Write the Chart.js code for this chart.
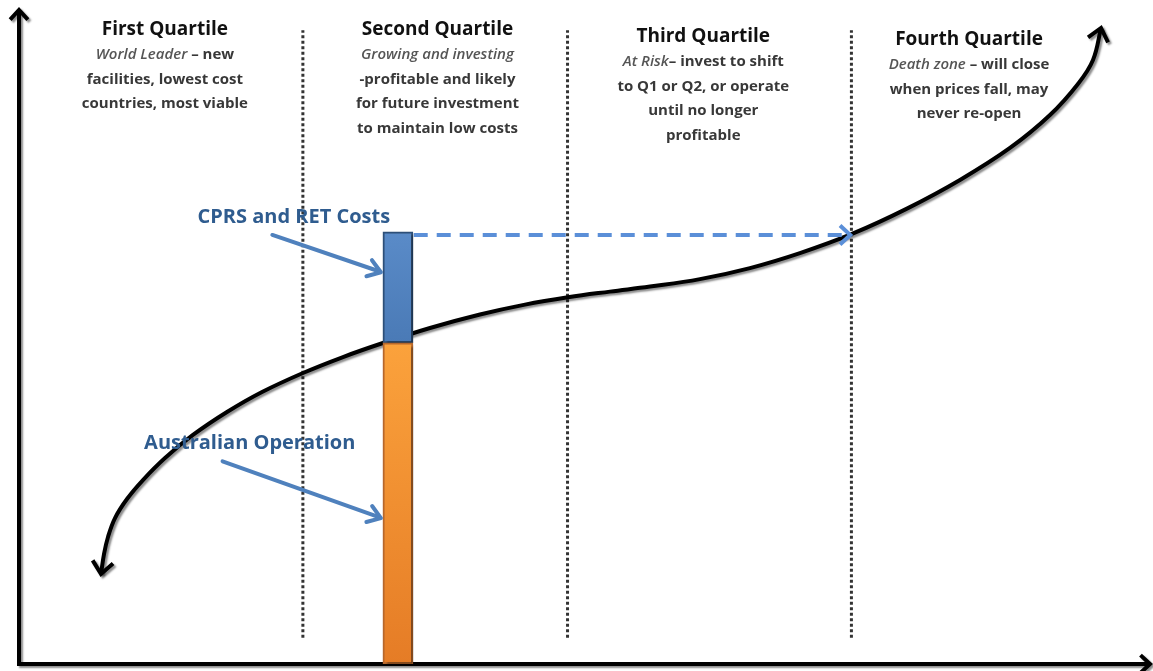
<!DOCTYPE html>
<html><head><meta charset="utf-8">
<script src="https://cdn.jsdelivr.net/npm/chart.js@4.4.1/dist/chart.umd.min.js"></script>
<style>html,body{margin:0;padding:0;background:#fff;overflow:hidden}#wrap{width:1153px;height:671px}</style>
</head><body><div id="wrap"><canvas id="c" width="1153" height="671"></canvas></div>
<script>
// ---- data (x: cumulative capacity 0-100, y: cost 0-100) ----
const curveX = [7.25, 7.52, 7.87, 8.49, 9.55, 10.96, 12.91, 15.38, 18.39, 21.49, 25.11, 28.65, 32.18, 36.34, 40.76, 44.74, 48.54, 52.25, 55.79, 60.21, 64.63, 69.05, 73.65, 78.51, 83.20, 87.62, 91.16, 93.63, 94.96, 95.67];
const curveY = [13.76, 16.82, 19.42, 22.32, 25.23, 28.13, 31.50, 35.02, 38.53, 41.59, 44.50, 46.94, 49.08, 51.38, 53.44, 54.95, 56.07, 56.94, 57.71, 58.85, 60.54, 62.83, 65.76, 69.63, 74.01, 78.90, 83.94, 88.69, 92.35, 97.25];
const quartileBounds = [25.1, 48.5, 73.6];
const quartileRange = [4.0, 96.9];
const barPosition = 33.5;
const operationCost = 49.1;
const carbonCost = 17.0;
const shiftLevel = 65.6;
const shiftFromX = 34.9;
const shiftToX = 73.5;

const quartileTitles = ['First Quartile', 'Second Quartile', 'Third Quartile', 'Fourth Quartile'];
const quartileCenters = [12.9, 37.0, 60.5, 84.0];
const quartileText = [
  [[['World Leader', true], [' \u2013 new', false]], [['facilities, lowest cost', false]], [['countries, most viable', false]]],
  [[['Growing and investing', true]], [['-profitable and likely', false]], [['for future investment', false]], [['to maintain low costs', false]]],
  [[['At Risk', true], ['\u2013 invest to shift', false]], [['to Q1 or Q2, or operate', false]], [['until no longer', false]], [['profitable', false]]],
  [[['Death zone', true], [' \u2013 will close', false]], [['when prices fall, may', false]], [['never re-open', false]]]
];
const quartileTop = [30, 30, 37, 40];

const annotations = [
  { text: 'CPRS and RET Costs', at: [24.3, 68.3], from: [22.4, 65.6], to: [32.0, 59.9] },
  { text: 'Australian Operation', at: [20.4, 33.8], from: [18.0, 31.0], to: [32.0, 22.3] }
];

// ---- helpers ----
function chevron(ctx, tx, ty, fx, fy, len, ang) {
  const a = Math.atan2(ty - fy, tx - fx);
  ctx.beginPath();
  ctx.moveTo(tx - len * Math.cos(a - ang), ty - len * Math.sin(a - ang));
  ctx.lineTo(tx, ty);
  ctx.lineTo(tx - len * Math.cos(a + ang), ty - len * Math.sin(a + ang));
  ctx.stroke();
}
function shadowOn(ctx) {
  ctx.shadowColor = 'rgba(0,0,0,0.45)';
  ctx.shadowOffsetX = 2; ctx.shadowOffsetY = 2; ctx.shadowBlur = 2;
}

const shadowPlugin = {
  id: 'shadow',
  beforeDatasetDraw(chart, args) {
    const ds = chart.data.datasets[args.index];
    chart.ctx.save();
    if (ds.shadow) shadowOn(chart.ctx);
  },
  afterDatasetDraw(chart) { chart.ctx.restore(); }
};

const decorPlugin = {
  id: 'decor',
  beforeDatasetsDraw(chart) {
    const ctx = chart.ctx, xs = chart.scales.x, ys = chart.scales.y;
    const x0 = xs.getPixelForValue(0), x1 = xs.getPixelForValue(100);
    const y0 = ys.getPixelForValue(0), y1 = ys.getPixelForValue(100);
    ctx.save();
    shadowOn(ctx);
    ctx.strokeStyle = '#000'; ctx.lineWidth = 4; ctx.lineJoin = 'miter'; ctx.lineCap = 'butt';
    ctx.beginPath();
    ctx.moveTo(x0, y1 + 3); ctx.lineTo(x0, y0); ctx.lineTo(x1 - 3, y0);
    ctx.stroke();
    chevron(ctx, x0, y1, x0, y1 + 20, 13, 0.75);
    chevron(ctx, x1, y0, x1 - 20, y0, 13, 0.75);
    ctx.restore();
  },
  afterDatasetsDraw(chart) {
    const ctx = chart.ctx, xs = chart.scales.x, ys = chart.scales.y;
    ctx.save();
    const pts = chart.getDatasetMeta(2).data;
    shadowOn(ctx);
    ctx.strokeStyle = '#000'; ctx.lineWidth = 4; ctx.lineJoin = 'miter';
    const n = pts.length;
    chevron(ctx, pts[n - 1].x, pts[n - 1].y, pts[n - 2].x, pts[n - 2].y, 16, 0.7);
    chevron(ctx, pts[0].x, pts[0].y, pts[1].x, pts[1].y, 16, 0.7);
    ctx.restore();
    ctx.save();
    const dp = chart.getDatasetMeta(3).data;
    ctx.strokeStyle = '#5B8FD8'; ctx.lineWidth = 4; ctx.lineJoin = 'miter';
    chevron(ctx, dp[1].x, dp[1].y, dp[0].x, dp[0].y, 14, 0.75);
    ctx.restore();
    ctx.save();
    annotations.forEach(a => {
      const fx = xs.getPixelForValue(a.from[0]), fy = ys.getPixelForValue(a.from[1]);
      const tx = xs.getPixelForValue(a.to[0]), ty = ys.getPixelForValue(a.to[1]);
      ctx.strokeStyle = '#4F81BD'; ctx.lineWidth = 4; ctx.lineCap = 'round'; ctx.lineJoin = 'round';
      ctx.beginPath(); ctx.moveTo(fx, fy); ctx.lineTo(tx - 2, ty - 1); ctx.stroke();
      chevron(ctx, tx, ty, fx, fy, 15, 0.6);
      ctx.font = 'bold 20px "Open Sans"';
      ctx.fillStyle = '#2F5C8F'; ctx.textAlign = 'center'; ctx.textBaseline = 'middle';
      ctx.fillText(a.text, xs.getPixelForValue(a.at[0]), ys.getPixelForValue(a.at[1]));
    });
    ctx.restore();
    ctx.save();
    ctx.textBaseline = 'middle';
    quartileTitles.forEach((t, i) => {
      const cx = xs.getPixelForValue(quartileCenters[i]);
      ctx.font = 'bold 19px "Open Sans"'; ctx.fillStyle = '#111'; ctx.textAlign = 'center';
      ctx.fillText(t, cx, quartileTop[i]);
      quartileText[i].forEach((line, j) => {
        const y = quartileTop[i] + 25 + j * 24.5;
        const fontOf = it => (it ? 'italic 600 15px "Open Sans"' : 'bold 15px "Open Sans"');
        let w = 0;
        line.forEach(s => { ctx.font = fontOf(s[1]); w += ctx.measureText(s[0]).width; });
        let x = cx - w / 2;
        ctx.textAlign = 'left';
        line.forEach(s => {
          ctx.font = fontOf(s[1]); ctx.fillStyle = s[1] ? '#555' : '#383838';
          ctx.fillText(s[0], x, y); x += ctx.measureText(s[0]).width;
        });
      });
    });
    ctx.restore();
  }
};

function barGrad(c, top, bottom, cTop, cBot) {
  const chart = c.chart;
  if (!chart.chartArea) return cTop;
  const ys = chart.scales.y;
  const g = chart.ctx.createLinearGradient(0, ys.getPixelForValue(top), 0, ys.getPixelForValue(bottom));
  g.addColorStop(0, cTop); g.addColorStop(1, cBot);
  return g;
}

const quartileSets = quartileBounds.map(b => ({
  type: 'line', label: 'q', data: [{ x: b, y: quartileRange[0] }, { x: b, y: quartileRange[1] }],
  borderColor: '#333', borderWidth: 3, borderDash: [3, 2.5], pointRadius: 0, tension: 0, order: 5
}));

new Chart(document.getElementById('c'), {
  type: 'line',
  data: {
    datasets: [
      { type: 'bar', label: 'Australian Operation', data: [{ x: barPosition, y: [0, operationCost] }],
        backgroundColor: c => barGrad(c, operationCost, 0, '#FBA23C', '#E57C26'),
        borderColor: '#B7672B', borderWidth: 2, borderSkipped: false, barThickness: 30, grouped: false, order: 0, shadow: true },
      { type: 'bar', label: 'CPRS and RET Costs', data: [{ x: barPosition, y: [operationCost, operationCost + carbonCost] }],
        backgroundColor: c => barGrad(c, operationCost + carbonCost, operationCost, '#5A8BC8', '#4A7AB6'),
        borderColor: '#2D4F78', borderWidth: 2, borderSkipped: false, barThickness: 30, grouped: false, order: 0, shadow: true },
      { type: 'line', label: 'Cost curve', data: curveX.map((x, i) => ({ x, y: curveY[i] })),
        borderColor: '#000', borderWidth: 4, tension: 0.4, pointRadius: 0, order: 1, shadow: true },
      { type: 'line', label: 'Cost shift', data: [{ x: shiftFromX, y: shiftLevel }, { x: shiftToX, y: shiftLevel }],
        borderColor: '#5B8FD8', borderWidth: 4, borderDash: [14, 9], pointRadius: 0, tension: 0, order: 0 },
      ...quartileSets
    ]
  },
  options: {
    responsive: false, animation: false, maintainAspectRatio: false,
    layout: { padding: { left: 19, right: 3, top: 10, bottom: 7 } },
    plugins: { legend: { display: false }, tooltip: { enabled: false } },
    elements: { line: { fill: false } },
    scales: {
      x: { type: 'linear', min: 0, max: 100, display: false, offset: false },
      y: { type: 'linear', min: 0, max: 100, display: false }
    }
  },
  plugins: [shadowPlugin, decorPlugin]
});
</script></body></html>
